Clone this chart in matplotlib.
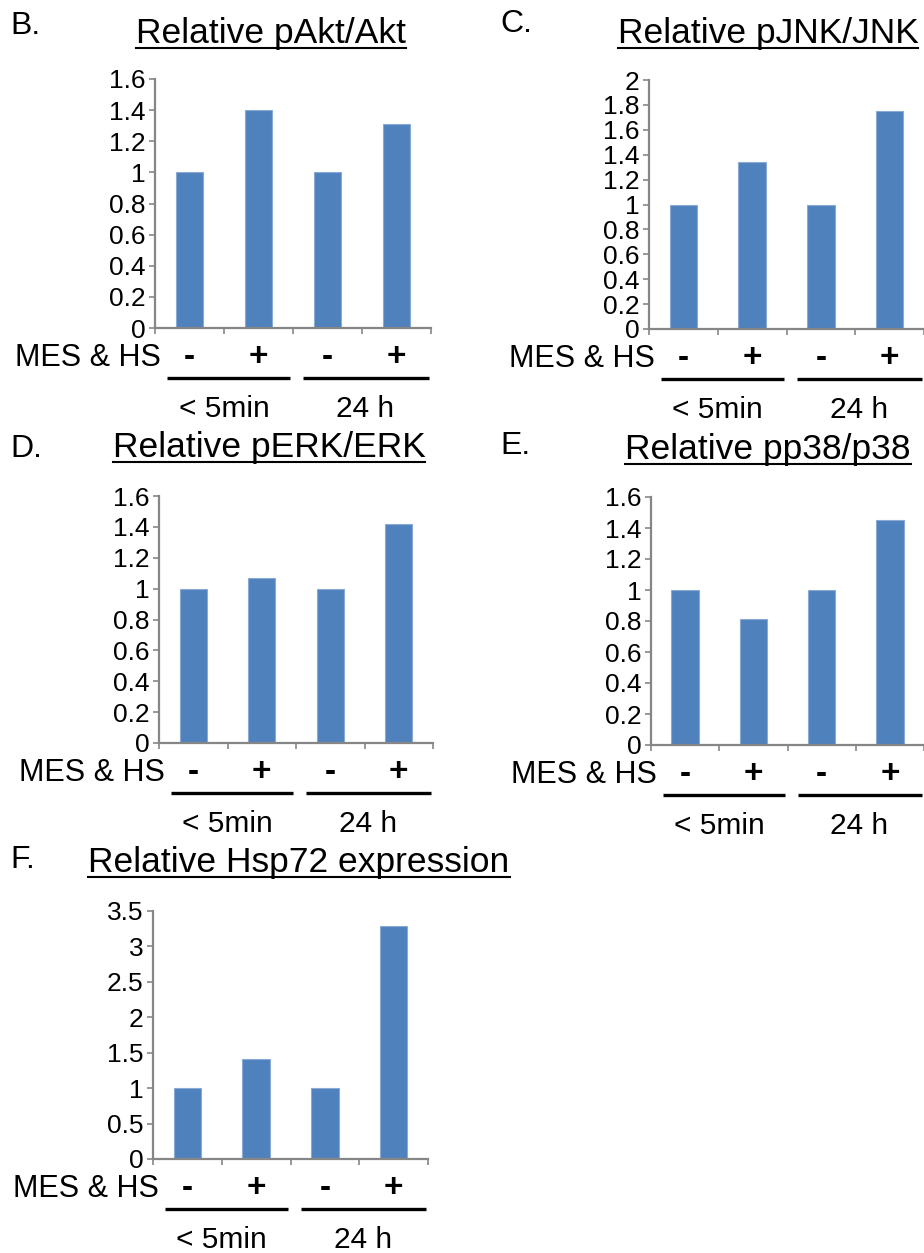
import numpy as np
import matplotlib
matplotlib.use("Agg")
import matplotlib.pyplot as plt
from matplotlib.lines import Line2D
from matplotlib.transforms import offset_copy

plt.rcParams['font.family'] = ['Liberation Sans', 'DejaVu Sans']

# data
signs  = ['-', '+', '-', '+']
groups = ['< 5min', '24 h']
pakt   = [1.0, 1.40, 1.0, 1.31]
pjnk   = [1.0, 1.34, 1.0, 1.75]
perk   = [1.0, 1.07, 1.0, 1.42]
pp38   = [1.0, 0.81, 1.0, 1.45]
hsp72  = [1.0, 1.41, 1.0, 3.29]

letters = ['B.', 'C.', 'D.', 'E.', 'F.']
titles  = ['Relative pAkt/Akt', 'Relative pJNK/JNK', 'Relative pERK/ERK',
           'Relative pp38/p38', 'Relative Hsp72 expression']
series  = [pakt, pjnk, perk, pp38, hsp72]
y_max   = [1.6, 2.0, 1.6, 1.6, 3.5]
y_step  = [0.2, 0.2, 0.2, 0.2, 0.5]

# layout in pixels: axes (left, right, top, zero line), title (center x, baseline), letter (left, baseline)
W, H = 924, 1253
ax_box    = [(155, 431, 79, 328), (649, 924, 80, 329), (159, 433, 496, 743),
             (651, 924, 497, 745), (153, 428, 911, 1159)]
title_pos = [(271, 43), (768, 43), (269, 457), (768, 459), (299, 872)]
letter_pos = [(10, 34), (500, 32), (10, 457), (500, 454), (10, 868)]

BLUE = '#4F81BD'
GRAY = '#868686'

fig = plt.figure(figsize=(W / 100, H / 100), dpi=100)

title_texts = []
for i in range(5):
    l, r, t, z = ax_box[i]
    ax = fig.add_axes([l / W, 1 - z / H, (r - l) / W, (z - t) / H])
    x = np.arange(len(series[i]))
    ax.bar(x, series[i], width=0.4, color=BLUE, edgecolor='#8aaad6', linewidth=0.8)
    ax.set_xlim(-0.5, 3.5)
    ax.set_ylim(0, y_max[i])
    yt = np.round(np.arange(0, y_max[i] + 1e-9, y_step[i]), 2)
    ax.set_yticks(yt)
    ax.set_yticklabels([f"{v:g}" for v in yt], fontsize=19)
    ax.set_xticks(x)
    ax.set_xticklabels(signs, fontsize=24, fontweight='bold')
    ax.set_xticks(np.arange(-0.5, 4, 1), minor=True)
    ax.tick_params(axis='x', which='major', length=0, pad=10)
    ax.tick_params(axis='x', which='minor', length=4, width=1.2, color=GRAY)
    ax.tick_params(axis='y', length=4, width=1.2, color=GRAY, pad=3)
    for s in ['top', 'right']:
        ax.spines[s].set_visible(False)
    for s in ['left', 'bottom']:
        ax.spines[s].set_color(GRAY)
        ax.spines[s].set_linewidth(1.6)

    # row label and time groups below the axis
    tr_row = offset_copy(ax.get_xaxis_transform(), fig=fig, y=-30, units='dots')
    ax.text(-0.42, 0, 'MES & HS', transform=tr_row, ha='right', va='center',
            fontsize=22, clip_on=False)
    tr_line = offset_copy(ax.get_xaxis_transform(), fig=fig, y=-50, units='dots')
    for x0, x1 in [(-0.33, 1.46), (1.65, 3.47)]:
        ax.plot([x0, x1], [0, 0], color='black', lw=2.4, transform=tr_line,
                clip_on=False, solid_capstyle='butt')
    tr_grp = offset_copy(ax.get_xaxis_transform(), fig=fig, y=-81, units='dots')
    for gx, g in zip([0.5, 2.55], groups):
        ax.text(gx, 0, g, transform=tr_grp, ha='center', va='center',
                fontsize=21.5, clip_on=False)

    lx, ly = letter_pos[i]
    fig.text(lx / W, 1 - ly / H, letters[i], fontsize=23, va='baseline', ha='left')
    tx, ty = title_pos[i]
    title_texts.append(fig.text(tx / W, 1 - ty / H, titles[i], fontsize=25.5,
                                va='baseline', ha='center'))

# underline the titles
fig.canvas.draw()
for i, t in enumerate(title_texts):
    bb = t.get_window_extent()
    yu = 1 - (title_pos[i][1] + 5) / H
    fig.add_artist(Line2D([bb.x0 / W, bb.x1 / W], [yu, yu], color='black', lw=1.5))

fig.savefig('out.png', dpi=100)
